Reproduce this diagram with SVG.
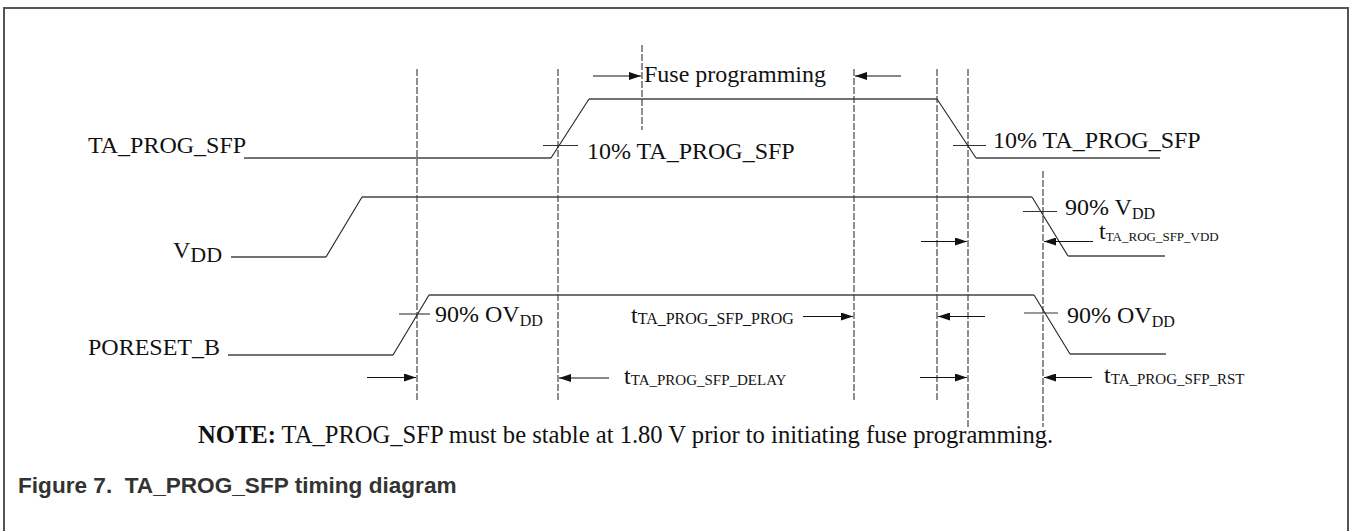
<svg xmlns="http://www.w3.org/2000/svg" width="1351" height="531" viewBox="0 0 1351 531">
<style>
.t{font-family:"Liberation Serif","Times New Roman",serif;font-size:24px;fill:#111}
.sig{fill:none;stroke:#444;stroke-width:1.4}
.edge{fill:none;stroke:#222;stroke-width:1.1}
.dash{fill:none;stroke:#333;stroke-width:1.1;stroke-dasharray:7,2}
.tick{fill:none;stroke:#333;stroke-width:1.1}
.arr{fill:none;stroke:#111;stroke-width:1.1;marker-end:url(#ah)}
.cap{font-family:"Liberation Sans",Arial,sans-serif;font-weight:bold;font-size:22.6px;fill:#333}
.note{font-size:24.6px}
</style>
<defs>
<marker id="ah" viewBox="0 0 12 8" refX="12" refY="4" markerWidth="12" markerHeight="8" markerUnits="userSpaceOnUse" orient="auto">
<path d="M0,0 L12,4 L0,8 Z" fill="#111"/>
</marker>
</defs>
<rect width="1351" height="531" fill="#fff"/>
<g id="frame">
<path d="M4,531 V8 H1348 V531" fill="none" stroke="#555" stroke-width="2"/>
</g>
<g id="guides">
<line class="dash" x1="417" y1="69" x2="417" y2="400"/>
<line class="dash" x1="558" y1="69" x2="558" y2="400"/>
<line class="dash" x1="642" y1="45" x2="642" y2="130"/>
<line class="dash" x1="854" y1="69" x2="854" y2="400"/>
<line class="dash" x1="937" y1="69" x2="937" y2="400"/>
<line class="dash" x1="968" y1="69" x2="968" y2="427"/>
<line class="dash" x1="1043" y1="171" x2="1043" y2="427"/>
</g>
<g id="sig-ta-prog-sfp">
<text class="t" x="88" y="153">TA_PROG_SFP</text>
<polyline class="sig" points="244,158 551,158"/>
<polyline class="edge" points="551,158 589,99"/>
<polyline class="sig" points="589,99 937,99"/>
<polyline class="edge" points="937,99 976,158"/>
<polyline class="sig" points="976,158 1160,158"/>
<line class="tick" x1="543" y1="145.5" x2="578" y2="145.5"/>
<text class="t" x="587" y="159">10% TA_PROG_SFP</text>
<line class="tick" x1="953" y1="145.5" x2="986" y2="145.5"/>
<text class="t" x="993" y="148">10% TA_PROG_SFP</text>
<text class="t" x="644" y="82">Fuse programming</text>
</g>
<g id="sig-vdd">
<text class="t" x="173" y="258">V<tspan font-size="22" dy="4">DD</tspan></text>
<polyline class="sig" points="231,257 326,257"/>
<polyline class="edge" points="326,257 362,197"/>
<polyline class="sig" points="362,197 1032,197"/>
<polyline class="edge" points="1032,197 1068,256"/>
<polyline class="sig" points="1068,256 1165,256"/>
<line class="tick" x1="1023" y1="211.5" x2="1057" y2="211.5"/>
<text class="t" x="1065" y="215">90% V<tspan font-size="16" dy="4">DD</tspan></text>
<text class="t" x="1099" y="239">t<tspan font-size="13" dy="1.5">TA_ROG_SFP_VDD</tspan></text>
</g>
<g id="sig-poreset-b">
<text class="t" x="88" y="355">PORESET_B</text>
<polyline class="sig" points="228,355 393,355"/>
<polyline class="edge" points="393,355 429,295"/>
<polyline class="sig" points="429,295 1034,295"/>
<polyline class="edge" points="1034,295 1070,354"/>
<polyline class="sig" points="1070,354 1166,354"/>
<line class="tick" x1="399" y1="314" x2="430" y2="314"/>
<text class="t" x="435" y="322">90% OV<tspan font-size="16" dy="4">DD</tspan></text>
<line class="tick" x1="1024" y1="313" x2="1058" y2="313"/>
<text class="t" x="1067" y="323">90% OV<tspan font-size="16" dy="4">DD</tspan></text>
<text class="t" x="631" y="323">t<tspan font-size="16" dy="0.5">TA_PROG_SFP_PROG</tspan></text>
<text class="t" x="624" y="384">t<tspan font-size="15" dy="0.5">TA_PROG_SFP_DELAY</tspan></text>
<text class="t" x="1104" y="383">t<tspan font-size="15" dy="0.5">TA_PROG_SFP_RST</tspan></text>
</g>
<g id="connectors">
<line class="arr" x1="593" y1="76" x2="641" y2="76"/>
<line class="arr" x1="901" y1="76" x2="855" y2="76"/>
<line class="arr" x1="921" y1="241.5" x2="967" y2="241.5"/>
<line class="arr" x1="1093" y1="241.5" x2="1044" y2="241.5"/>
<line class="arr" x1="803" y1="316.5" x2="853" y2="316.5"/>
<line class="arr" x1="985" y1="316.5" x2="938" y2="316.5"/>
<line class="arr" x1="367" y1="377.5" x2="416" y2="377.5"/>
<line class="arr" x1="609" y1="378" x2="559" y2="378"/>
<line class="arr" x1="920" y1="377.5" x2="967" y2="377.5"/>
<line class="arr" x1="1092" y1="377.5" x2="1044" y2="377.5"/>
</g>
<g id="note">
<text class="t note" x="198" y="443"><tspan font-weight="bold">NOTE:</tspan> TA_PROG_SFP must be stable at 1.80 V prior to initiating fuse programming.</text>
</g>
<g id="caption">
<text class="cap" x="18" y="493" xml:space="preserve">Figure 7.  TA_PROG_SFP timing diagram</text>
</g>
</svg>
